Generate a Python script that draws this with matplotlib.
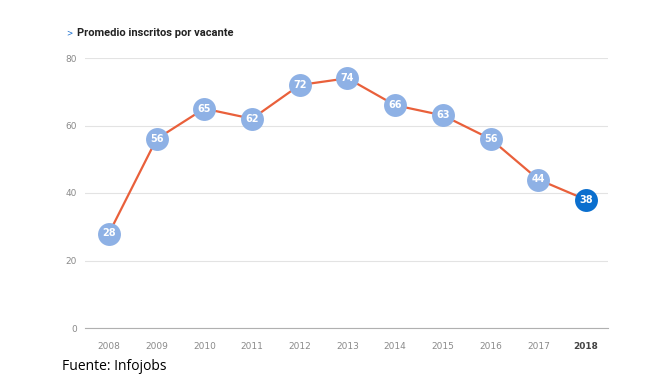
import numpy as np
import matplotlib.pyplot as plt

# datos del grafico
anios = [2008, 2009, 2010, 2011, 2012, 2013, 2014, 2015, 2016, 2017, 2018]
inscritos = [28, 56, 65, 62, 72, 74, 66, 63, 56, 44, 38]
yticks = [0, 20, 40, 60, 80]

fig = plt.figure(figsize=(6.72, 3.78), dpi=100)
ax = fig.add_axes([85 / 672, 1 - 328 / 378, 523 / 672, 270 / 378])

ax.plot(anios, inscritos, color='#e9603b', linewidth=1.6, zorder=2)

colores = ['#8eb1e5'] * (len(anios) - 1) + ['#0b6fce']
for a, v, c in zip(anios, inscritos, colores):
    ax.plot(a, v, marker='o', markersize=16.5, color=c, markeredgewidth=0, zorder=3)
    ax.text(a, v, str(v), ha='center', va='center', color='white',
            fontsize=7, fontweight='bold', zorder=4)

ax.set_xlim(2007.5, 2018.46)
ax.set_ylim(0, 80)
ax.set_yticks(yticks)
ax.set_xticks(anios)
ax.set_xticklabels([str(a) for a in anios])
ax.tick_params(length=0, labelsize=6.5, labelcolor='#8a8a8a', pad=10)
ax.tick_params(axis='y', pad=6)
ax.get_xticklabels()[-1].set_fontweight('bold')
ax.get_xticklabels()[-1].set_color('#444444')

ax.grid(axis='y', color='#e3e3e3', linewidth=0.8)
ax.set_axisbelow(True)
for s in ['top', 'right', 'left']:
    ax.spines[s].set_visible(False)
ax.spines['bottom'].set_color('#b0b0b0')
ax.spines['bottom'].set_linewidth(0.8)

fig.text(66 / 672, 1 - 33 / 378, '>', fontsize=5.5, color='#1a6fcf', va='center')
fig.text(77 / 672, 1 - 33 / 378, 'Promedio inscritos por vacante', fontsize=8,
         fontweight='bold', color='#222222', va='center', family='Roboto')
fig.text(62 / 672, 1 - 367 / 378, 'Fuente: Infojobs', fontsize=10,
         color='black', va='center', family='Open Sans')

fig.savefig('out.png', dpi=100)
